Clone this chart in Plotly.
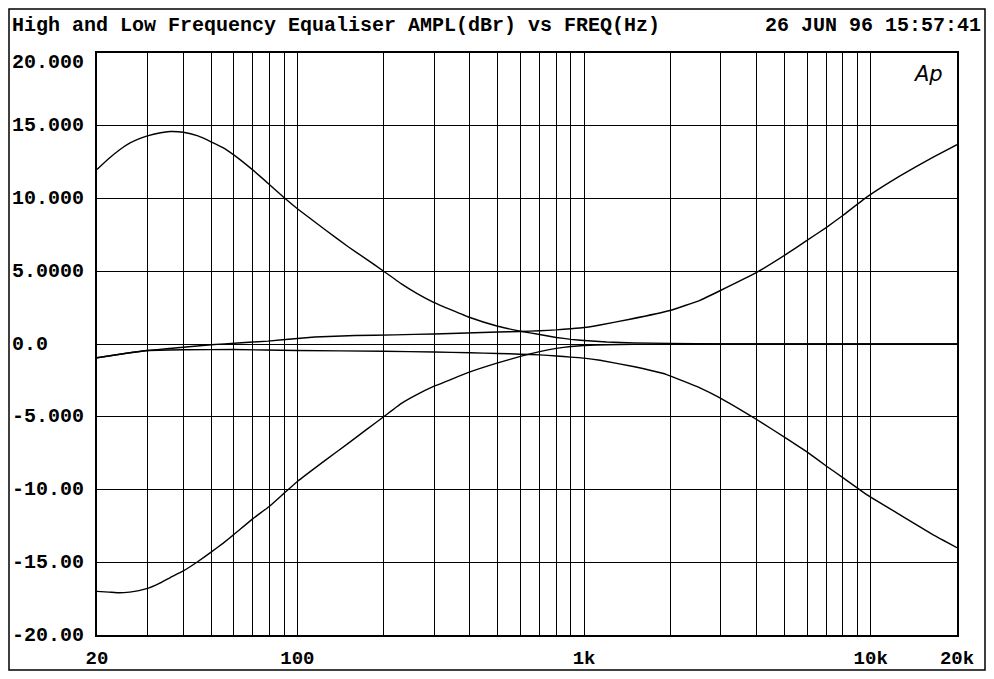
import plotly.graph_objects as go

# ---------------- data ----------------
bass_boost_freq = [20, 22, 24, 26, 28, 30, 33, 36, 40, 45, 50, 55, 60, 70, 80, 90, 100, 125, 150,
                   175, 200, 230, 260, 300, 400, 500, 600, 700, 800, 900, 1000, 1200, 1500, 2000,
                   3000, 20000]
bass_boost_db = [12.0, 12.75, 13.35, 13.8, 14.1, 14.3, 14.5, 14.6, 14.55, 14.3, 13.9, 13.5, 13.0,
                 11.95, 10.95, 10.05, 9.3, 7.85, 6.7, 5.8, 5.0, 4.15, 3.5, 2.85, 1.82, 1.22, 0.88,
                 0.65, 0.45, 0.32, 0.24, 0.14, 0.08, 0.04, 0.01, 0.0]

bass_cut_freq = [20, 22, 24, 26, 28, 30, 33, 36, 40, 45, 50, 55, 60, 70, 80, 90, 100, 125, 150,
                 175, 200, 230, 260, 300, 400, 500, 600, 700, 800, 900, 1000, 1200, 1500, 2000,
                 20000]
bass_cut_db = [-17.0, -17.05, -17.1, -17.05, -16.95, -16.8, -16.45, -16.05, -15.6, -14.95, -14.3,
               -13.7, -13.1, -12.0, -11.15, -10.25, -9.45, -8.0, -6.85, -5.85, -5.0, -4.1, -3.5,
               -2.9, -1.92, -1.3, -0.85, -0.52, -0.3, -0.17, -0.1, -0.05, -0.02, 0.0, 0.0]

treble_boost_freq = [20, 25, 30, 35, 40, 50, 62, 79, 100, 115, 159, 218, 300, 390, 500, 600, 700,
                     800, 900, 1000, 1137, 1446, 1994, 2536, 2979, 4000, 5094, 5975, 7015, 8015,
                     9683, 12658, 16525, 20000]
treble_boost_db = [-0.95, -0.65, -0.45, -0.33, -0.22, -0.05, 0.07, 0.2, 0.38, 0.48, 0.58, 0.63,
                   0.69, 0.76, 0.82, 0.86, 0.91, 0.97, 1.05, 1.13, 1.31, 1.7, 2.3, 3.0, 3.66, 4.92,
                   6.19, 7.1, 8.02, 8.85, 10.09, 11.55, 12.85, 13.7]

treble_cut_freq = [20, 25, 30, 40, 60, 100, 200, 300, 400, 500, 600, 700, 800, 900, 1000, 1137,
                   1485, 1942, 2536, 2979, 4000, 5094, 5975, 7015, 8015, 9683, 12658, 16525, 20000]
treble_cut_db = [-0.95, -0.65, -0.45, -0.4, -0.38, -0.45, -0.5, -0.55, -0.6, -0.65, -0.7, -0.75,
                 -0.82, -0.9, -0.97, -1.12, -1.55, -2.1, -3.01, -3.7, -5.19, -6.5, -7.4, -8.4,
                 -9.2, -10.35, -11.74, -13.12, -14.0]

x_grid = [20, 30, 40, 50, 60, 70, 80, 90, 100, 200, 300, 400, 500, 600, 700, 800, 900,
          1000, 2000, 3000, 4000, 5000, 6000, 7000, 8000, 9000, 10000, 20000]
x_labels = {20: "20", 100: "100", 1000: "1k", 10000: "10k", 20000: "20k"}

y_ticks = [20, 15, 10, 5, 0, -5, -10, -15, -20]
y_labels = ["20.000", "15.000", "10.000", "5.0000", "0.0", "-5.000", "-10.00", "-15.00", "-20.00"]

title_text = "High and Low Frequency Equaliser AMPL(dBr) vs FREQ(Hz)"
date_text = "26 JUN 96 15:57:41"

# ---------------- figure ----------------
OFF = 8            # page body margin
W, H = 994 - 2 * OFF, 679 - 2 * OFF
# plot area in page pixels
PX0, PX1, PY0, PY1 = 97, 957, 53, 635
L = PX0 - OFF
T = PY0 - OFF
R = W - (PX1 - OFF)
B = H - (PY1 - OFF)
pw, ph = PX1 - PX0, PY1 - PY0

def px2paper_x(px):  # page pixel -> paper
    return (px - PX0) / pw

def px2paper_y(py):
    return (PY1 - py) / ph

FONT = "Liberation Mono"

fig = go.Figure()
for fx, fy in [(bass_boost_freq, bass_boost_db), (bass_cut_freq, bass_cut_db),
               (treble_boost_freq, treble_boost_db), (treble_cut_freq, treble_cut_db)]:
    fig.add_trace(go.Scatter(x=fx, y=fy, mode="lines",
                             line=dict(color="black", width=1.4, shape="spline", smoothing=0.3),
                             hoverinfo="skip", showlegend=False))

fig.update_layout(
    width=W, height=H,
    margin=dict(l=L, r=R, t=T, b=B, autoexpand=False),
    paper_bgcolor="white", plot_bgcolor="white",
    showlegend=False,
    font=dict(family=FONT, size=20, color="black", weight="bold"),
)

fig.update_xaxes(
    type="log", range=[1.30103, 4.30103], automargin=False,
    tickvals=x_grid, ticktext=[x_labels.get(v, "") for v in x_grid],
    showgrid=True, gridcolor="black", gridwidth=1.3,
    showline=True, mirror=True, linecolor="black", linewidth=1.5,
    ticks="", ticklen=0, ticklabelstandoff=4,
    tickfont=dict(family=FONT, size=19, color="black", weight="bold"),
    zeroline=False,
)
fig.update_yaxes(
    range=[-20, 20], tickvals=y_ticks, showticklabels=False, automargin=False,
    showgrid=True, gridcolor="black", gridwidth=1.3,
    showline=True, mirror=True, linecolor="black", linewidth=1.5,
    ticks="", zeroline=False,
)

annotations = []
for v, lab in zip(y_ticks, y_labels):
    annotations.append(dict(
        x=px2paper_x(10), xref="paper", xanchor="left",
        y=v, yref="y", yanchor="middle",
        yshift=-9 if v == 20 else 0,
        text=lab, showarrow=False,
        font=dict(family=FONT, size=20, color="black", weight="bold"),
    ))
annotations.append(dict(
    x=px2paper_x(10), xref="paper", xanchor="left",
    y=px2paper_y(26), yref="paper", yanchor="middle",
    text=title_text, showarrow=False,
    font=dict(family=FONT, size=20, color="black", weight="bold"),
))
annotations.append(dict(
    x=px2paper_x(983), xref="paper", xanchor="right",
    y=px2paper_y(26), yref="paper", yanchor="middle",
    text=date_text, showarrow=False,
    font=dict(family=FONT, size=20, color="black", weight="bold"),
))
annotations.append(dict(
    x=px2paper_x(928), xref="paper", xanchor="center",
    y=px2paper_y(74), yref="paper", yanchor="middle",
    text="Ap", showarrow=False,
    font=dict(family="DejaVu Sans", size=21, color="black", style="italic", weight=200),
))
fig.update_layout(annotations=annotations)

# outer frame (clamped to the figure canvas)
fig.add_shape(type="rect", xref="paper", yref="paper",
              x0=px2paper_x(OFF + 1), x1=px2paper_x(OFF + W - 1),
              y0=px2paper_y(OFF + H - 1), y1=px2paper_y(OFF + 1),
              line=dict(color="black", width=1.5), layer="above")

fig.write_html("out.html")
